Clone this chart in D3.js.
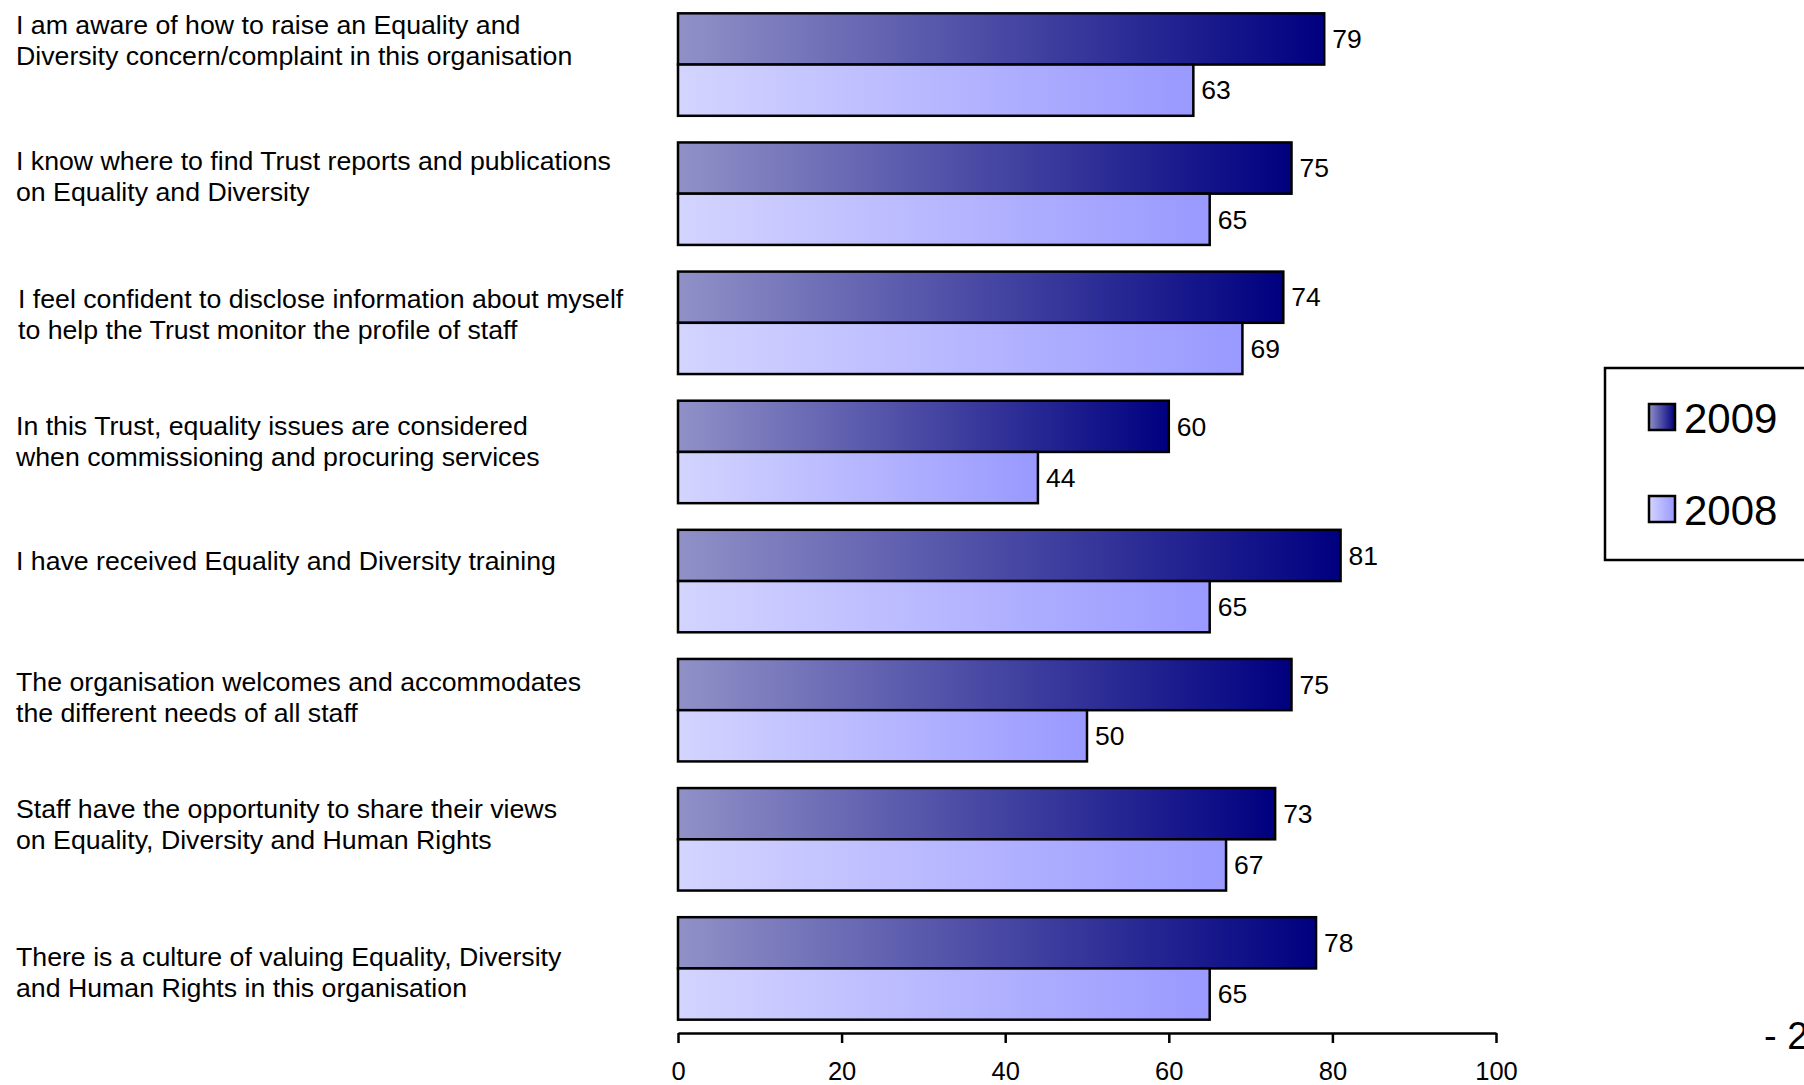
<!DOCTYPE html>
<html>
<head>
<meta charset="utf-8">
<script src="https://cdn.jsdelivr.net/npm/d3@7/dist/d3.min.js"></script>
<style>
  html, body { margin: 0; padding: 0; background: #fff; }
  svg { display: block; font-family: "Liberation Sans", Arial, sans-serif; }
</style>
</head>
<body>
<svg id="chart" width="1804" height="1085"></svg>
<script>
// Survey statements (line breaks mark the wrapped label lines)
const categories = [
  "I am aware of how to raise an Equality and\nDiversity concern/complaint in this organisation",
  "I know where to find Trust reports and publications\non Equality and Diversity",
  "I feel confident to disclose information about myself\nto help the Trust monitor the profile of staff",
  "In this Trust, equality issues are considered\nwhen commissioning and procuring services",
  "I have received Equality and Diversity training",
  "The organisation welcomes and accommodates\nthe different needs of all staff",
  "Staff have the opportunity to share their views\non Equality, Diversity and Human Rights",
  "There is a culture of valuing Equality, Diversity\nand Human Rights in this organisation"
];
const seriesNames = ["2009", "2008"];
const values2009 = [79, 75, 74, 60, 81, 75, 73, 78];
const values2008 = [63, 65, 69, 44, 65, 50, 67, 65];
const xTicks = [0, 20, 40, 60, 80, 100];
const pageNumber = "- 2";

// Layout
const plotLeft = 678, plotRight = 1496, plotTop = 0, plotBottom = 1033;
const labelX = 16, labelLine = 31;
// distance from each band top to the middle of its first label line
const labelDy = [11.5, 18, 27, 25, 31, 23, 21, 39];
const labelIndent = [0, 0, 2, 0, 0, 0, 0, 0];

const svg = d3.select("#chart");

// Per-bar horizontal gradients
const defs = svg.append("defs");
function gradient(id, from, to) {
  const g = defs.append("linearGradient").attr("id", id)
    .attr("x1", "0%").attr("x2", "100%").attr("y1", "0%").attr("y2", "0%");
  g.append("stop").attr("offset", "0%").attr("stop-color", from);
  g.append("stop").attr("offset", "100%").attr("stop-color", to);
}
gradient("g2009", "#9191c8", "#000080");
gradient("g2008", "#d4d4ff", "#9999ff");
const fills = ["url(#g2009)", "url(#g2008)"];

const x = d3.scaleLinear().domain([0, 100]).range([plotLeft, plotRight]);
const y = d3.scaleBand().domain(d3.range(categories.length))
  .range([plotTop, plotBottom]).paddingInner(0.2064).paddingOuter(0.1032);
const ySub = d3.scaleBand().domain([0, 1]).range([0, y.bandwidth()]);

const rows = categories.map((c, i) => ({ i, label: c, vals: [values2009[i], values2008[i]] }));

const groups = svg.append("g").selectAll("g.row").data(rows).join("g")
  .attr("class", "row")
  .attr("transform", d => `translate(0,${y(d.i)})`);

groups.selectAll("rect").data(d => d.vals.map((v, s) => ({ v, s }))).join("rect")
  .attr("x", x(0))
  .attr("y", d => ySub(d.s))
  .attr("width", d => x(d.v) - x(0))
  .attr("height", ySub.bandwidth())
  .attr("fill", d => fills[d.s])
  .attr("stroke", "#000")
  .attr("stroke-width", 2.5);

groups.selectAll("text.val").data(d => d.vals.map((v, s) => ({ v, s }))).join("text")
  .attr("class", "val")
  .attr("x", d => x(d.v) + 8)
  .attr("y", d => ySub(d.s) + ySub.bandwidth() / 2)
  .attr("dy", "0.35em")
  .attr("font-size", 26.5)
  .attr("fill", "#000")
  .text(d => d.v);

// Category labels
groups.append("text")
  .attr("class", "cat")
  .attr("font-size", 26.7)
  .attr("fill", "#000")
  .selectAll("tspan").data(d => d.label.split("\n").map((t, k) => ({ t, k, i: d.i }))).join("tspan")
  .attr("x", d => labelX + labelIndent[d.i])
  .attr("y", d => labelDy[d.i] + d.k * labelLine)
  .attr("dy", "0.35em")
  .text(d => d.t);

// X axis
const axis = svg.append("g")
  .attr("transform", `translate(0,${plotBottom})`)
  .call(d3.axisBottom(x).tickValues(xTicks).tickSize(10).tickSizeOuter(0).tickPadding(19));
axis.select(".domain").attr("stroke", "#000").attr("stroke-width", 2.5);
axis.selectAll(".tick line").attr("stroke", "#000").attr("stroke-width", 2.5);
axis.selectAll(".tick text").attr("font-size", 25.5).attr("font-family", "Liberation Sans, Arial, sans-serif").attr("fill", "#000");

// Legend
const legend = svg.append("g");
legend.append("rect")
  .attr("x", 1605).attr("y", 368).attr("width", 260).attr("height", 192)
  .attr("fill", "#fff").attr("stroke", "#000").attr("stroke-width", 2.5);
const legendItems = legend.selectAll("g.item").data(seriesNames).join("g")
  .attr("class", "item")
  .attr("transform", (d, k) => `translate(1649,${404 + k * 92})`);
legendItems.append("rect")
  .attr("width", 26).attr("height", 26)
  .attr("fill", (d, k) => fills[k])
  .attr("stroke", "#000").attr("stroke-width", 2.5);
legendItems.append("text")
  .attr("x", 35).attr("y", 14).attr("dy", "0.35em")
  .attr("font-size", 42).attr("fill", "#000")
  .text(d => d);

// Page number
svg.append("text")
  .attr("x", 1764).attr("y", 1036).attr("dy", "0.35em")
  .attr("font-size", 38).attr("fill", "#000")
  .text(pageNumber);
</script>
</body>
</html>
